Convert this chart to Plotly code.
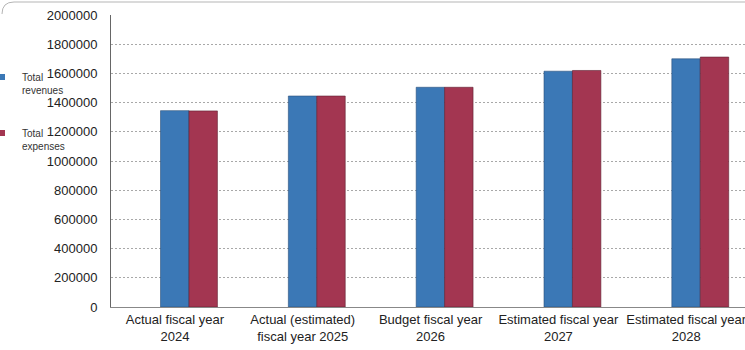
import plotly.graph_objects as go

categories = ["Actual fiscal year<br>2024", "Actual (estimated)<br>fiscal year 2025",
              "Budget fiscal year<br>2026", "Estimated fiscal year<br>2027",
              "Estimated fiscal year<br>2028"]
revenues = [1345000, 1445000, 1505000, 1615000, 1700000]
expenses = [1343000, 1445000, 1505000, 1620000, 1712000]
y_ticks = [0, 200000, 400000, 600000, 800000, 1000000, 1200000, 1400000,
           1600000, 1800000, 2000000]

W, H = 745, 350
ml, mr, mt, mb = 111, 0, 15, 43
pw, ph = W - ml - mr, H - mt - mb


def px_x(px):
    return (px - ml) / pw


def px_y(py):
    return (H - mb - py) / ph


blue, red = "#3b78b6", "#a33651"
xs = list(range(len(categories)))
label_shift = 0.11  # category labels sit slightly left of the bar groups

fig = go.Figure()
fig.add_trace(go.Bar(x=xs, y=revenues, name="Total<br>revenues", showlegend=False,
                     marker=dict(color=blue, line=dict(color="#2a4f7a", width=0.6))))
fig.add_trace(go.Bar(x=xs, y=expenses, name="Total<br>expenses", showlegend=False,
                     marker=dict(color=red, line=dict(color="#5e2030", width=0.6))))
# legend entries (small square swatches as in the reference)
fig.add_trace(go.Scatter(x=[None], y=[None], mode="markers", name="Total<br>revenues",
                         marker=dict(symbol="square", size=6, color=blue),
                         legend="legend"))
fig.add_trace(go.Scatter(x=[None], y=[None], mode="markers", name="Total<br>expenses",
                         marker=dict(symbol="square", size=6, color=red),
                         legend="legend2"))

font = "Liberation Sans, Arial, sans-serif"
leg_common = dict(xanchor="left", yanchor="top", valign="top",
                  bgcolor="rgba(0,0,0,0)", borderwidth=0,
                  font=dict(size=10, color="#333"), itemwidth=30, tracegroupgap=0)
leg_x = px_x(-18)

# faint outer chart frame (top edge with rounded corner)
frame_path = (f"M {px_x(2)},{px_y(14)} Q {px_x(2)},{px_y(2)} {px_x(14)},{px_y(2)} "
              f"L {px_x(745)},{px_y(2)}")

fig.update_layout(
    width=W, height=H,
    margin=dict(l=ml, r=mr, t=mt, b=mb, autoexpand=False),
    paper_bgcolor="white", plot_bgcolor="white",
    barmode="group", bargap=0.555, bargroupgap=0,
    font=dict(family=font, size=12, color="#222"),
    showlegend=True,
    legend=dict(x=leg_x, y=px_y(64), **leg_common),
    legend2=dict(x=leg_x, y=px_y(120), **leg_common),
    shapes=[dict(type="path", xref="paper", yref="paper", path=frame_path,
                 line=dict(color="#b5b5b5", width=1))],
    xaxis=dict(range=[-0.61, 4.35], tickmode="array",
               tickvals=[x - label_shift for x in xs], ticktext=categories,
               ticklabeloverflow="allow",
               showline=True, linecolor="#888", linewidth=1, showgrid=False,
               ticks="", tickfont=dict(size=13, color="#222"), zeroline=False),
    yaxis=dict(range=[0, 2000000], tickmode="array", tickvals=y_ticks,
               ticktext=[str(v) for v in y_ticks], showgrid=True,
               gridcolor="#a8a8a8", griddash="2px,2px", gridwidth=1,
               showline=True, linecolor="#666", linewidth=1, zeroline=False,
               ticks="", ticklabelstandoff=10, tickfont=dict(size=13, color="#222")),
)

fig.write_html("out.html", config={"displayModeBar": False},
               post_script="document.body.style.margin='0';")
